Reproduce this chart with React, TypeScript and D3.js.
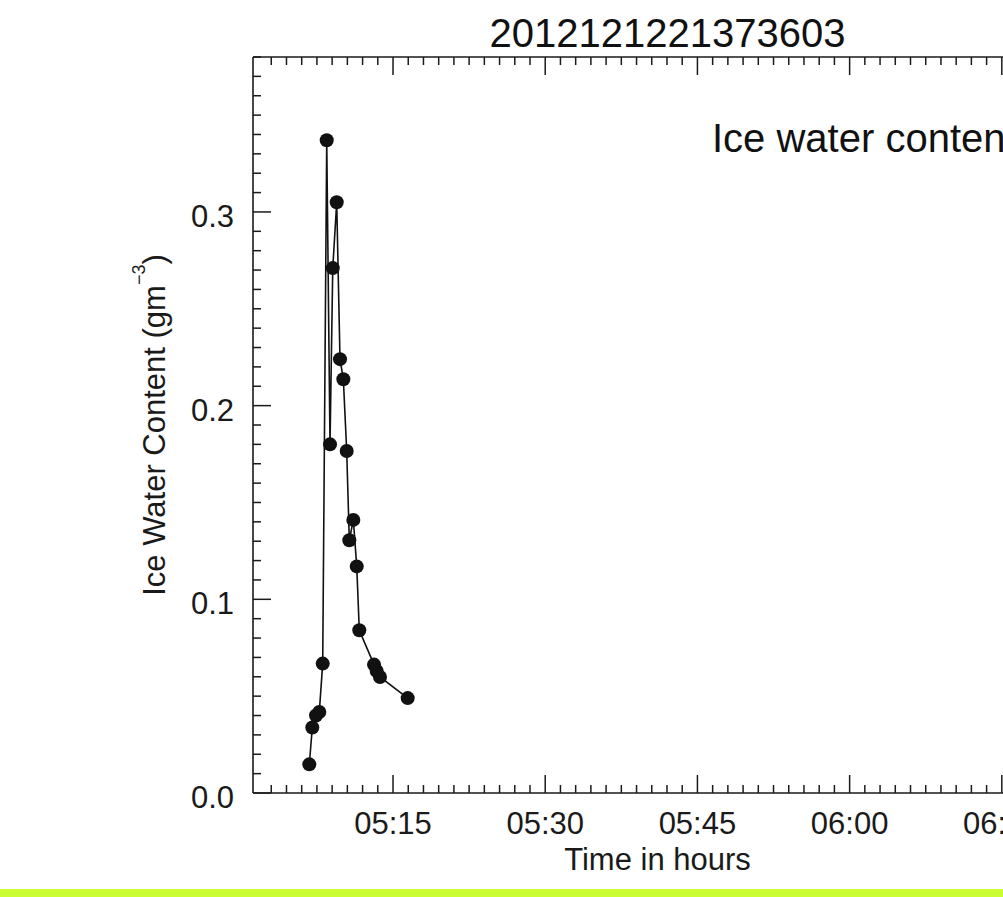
import React from "react";
import * as d3 from "d3";

// Sample times (decimal hours, UTC) and ice water content (g m^-3)
const timeHours = [
  5.1125, 5.1174, 5.1235, 5.1289, 5.1345, 5.1411, 5.1465, 5.151, 5.1575, 5.1629,
  5.1684, 5.1739, 5.1782, 5.1848, 5.1904, 5.1946, 5.2188, 5.2232, 5.2286, 5.2741,
];
const iceWaterContent = [
  0.0148, 0.0338, 0.04, 0.0418, 0.0668, 0.337, 0.18, 0.271, 0.305, 0.224,
  0.2136, 0.1766, 0.1305, 0.141, 0.117, 0.084, 0.0663, 0.063, 0.0599, 0.049,
];

const xMajorTicks = [5.25, 5.5, 5.75, 6.0, 6.25];
const yMajorTicks = [0, 0.1, 0.2, 0.3];
const xDomain = [5.02, 6.36];
const yDomain = [0, 0.38];

const plotTitle = "2012121221373603";
const xAxisTitle = "Time in hours";
const yAxisTitle = "Ice Water Content (gm";
const annotation = "Ice water content";

const W = 1003;
const H = 897;
const left = 253;
const top = 57;
const bottom = 793;
const pxPerHour = 608.8;

const FONT = "'Liberation Sans', Arial, Helvetica, sans-serif";
const INK = "#1a1a1a";

const fmtTime = (h: number) => {
  const total = Math.round(h * 60);
  const hh = Math.floor(total / 60);
  const mm = total % 60;
  return `${String(hh).padStart(2, "0")}:${String(mm).padStart(2, "0")}`;
};

export default function App() {
  const x = d3
    .scaleLinear()
    .domain(xDomain)
    .range([left, left + (xDomain[1] - xDomain[0]) * pxPerHour]);
  const y = d3.scaleLinear().domain(yDomain).range([bottom, top]);
  const right = x.range()[1];

  const xMinor = d3
    .range(Math.round(xDomain[0] * 40) + 1, Math.floor(xDomain[1] * 40) + 1)
    .map((k) => k / 40);
  const yMinor = d3.range(0, Math.round(yDomain[1] * 100) + 1).map((k) => k / 100);

  const line = d3
    .line<number>()
    .x((_, i) => x(timeHours[i]))
    .y((d) => y(d));

  const majMinX = new Set(xMajorTicks.map((t) => Math.round(t * 40)));
  const majMinY = new Set(yMajorTicks.map((t) => Math.round(t * 100)));

  return (
    <svg
      width={W}
      height={H}
      style={{ position: "absolute", left: 0, top: 0, background: "#fff" }}
      fontFamily={FONT}
    >
      <rect x={0} y={0} width={W} height={H} fill="#fff" />

      {/* frame */}
      <line x1={left} x2={right} y1={top} y2={top} stroke={INK} strokeWidth={1.6} />
      <line x1={left} x2={right} y1={bottom} y2={bottom} stroke={INK} strokeWidth={1.6} />
      <line x1={left} x2={left} y1={top} y2={bottom} stroke={INK} strokeWidth={1.6} />
      <line x1={right} x2={right} y1={top} y2={bottom} stroke={INK} strokeWidth={1.6} />

      {/* x ticks, top and bottom */}
      {xMinor.map((t) => {
        const len = majMinX.has(Math.round(t * 40)) ? 18 : 8;
        const px = x(t);
        return (
          <g key={`xt${t}`} stroke={INK} strokeWidth={1.5}>
            <line x1={px} x2={px} y1={bottom} y2={bottom - len} />
            <line x1={px} x2={px} y1={top} y2={top + len} />
          </g>
        );
      })}
      {xMajorTicks.map((t) => (
        <text
          key={`xl${t}`}
          x={x(t)}
          y={bottom + 41}
          textAnchor="middle"
          fontSize={31}
          fill={INK}
        >
          {fmtTime(t)}
        </text>
      ))}

      {/* y ticks, left and right */}
      {yMinor.map((v) => {
        const len = majMinY.has(Math.round(v * 100)) ? 18 : 8;
        const py = y(v);
        return (
          <g key={`yt${v}`} stroke={INK} strokeWidth={1.5}>
            <line x1={left} x2={left + len} y1={py} y2={py} />
            <line x1={right} x2={right - len} y1={py} y2={py} />
          </g>
        );
      })}
      {yMajorTicks.map((v) => (
        <text
          key={`yl${v}`}
          x={234}
          y={y(v) + 15}
          textAnchor="end"
          fontSize={31}
          fill={INK}
        >
          {v.toFixed(1)}
        </text>
      ))}

      {/* series */}
      <path d={line(iceWaterContent) ?? ""} fill="none" stroke="#111" strokeWidth={1.6} />
      {iceWaterContent.map((v, i) => (
        <circle key={`p${i}`} cx={x(timeHours[i])} cy={y(v)} r={7} fill="#111" />
      ))}

      {/* titles */}
      <text x={667.5} y={47} textAnchor="middle" fontSize={40} fill="#111">
        {plotTitle}
      </text>
      <text x={657.5} y={870} textAnchor="middle" fontSize={31} fill={INK}>
        {xAxisTitle}
      </text>
      <text
        transform={`translate(165, ${(top + bottom) / 2}) rotate(-90)`}
        textAnchor="middle"
        fontSize={31}
        fill={INK}
      >
        {yAxisTitle}
        <tspan dy={-20} fontSize={18}>
          −3
        </tspan>
        <tspan dy={20}>)</tspan>
      </text>
      <text x={712} y={152} fontSize={40} fill="#111">
        {annotation}
      </text>

      {/* bottom rule */}
      <rect x={0} y={889} width={W} height={8} fill="#ccff33" />
    </svg>
  );
}
